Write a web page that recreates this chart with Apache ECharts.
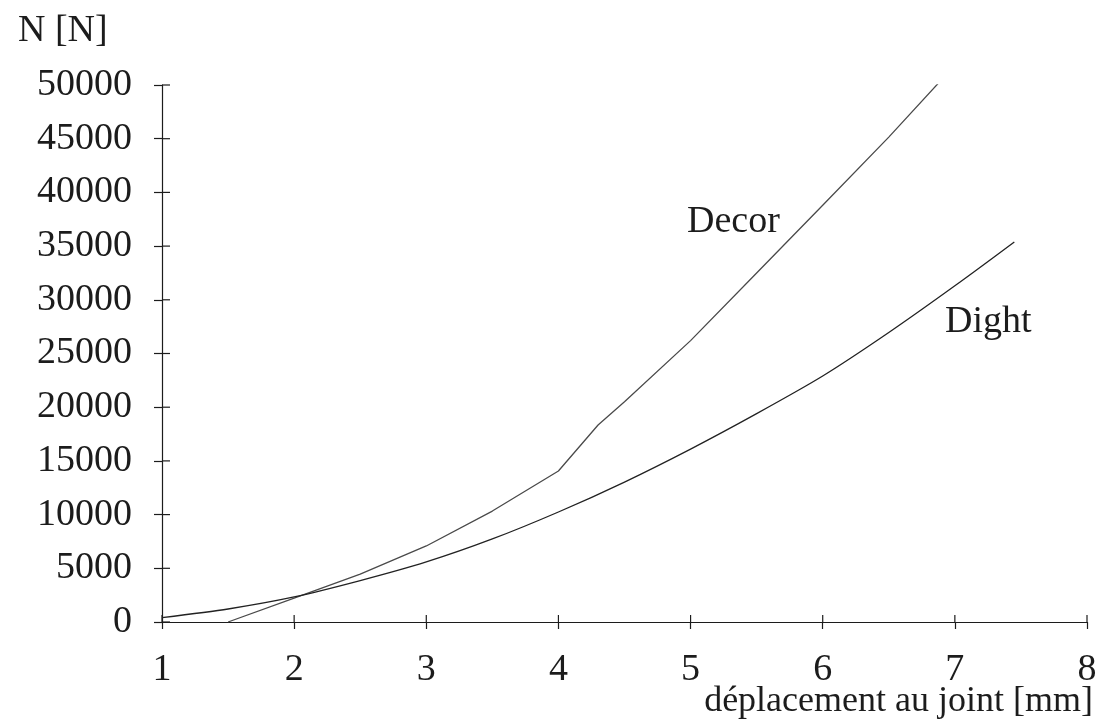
<!DOCTYPE html>
<html>
<head>
<meta charset="utf-8">
<script src="https://cdn.jsdelivr.net/npm/echarts@6/dist/echarts.min.js"></script>
<style>
html,body{margin:0;padding:0;background:#fff;}
#chart{width:1106px;height:728px;}
</style>
</head>
<body>
<div id="chart"></div>
<script>
// Tick labels / axis ranges
const xTicks = [1, 2, 3, 4, 5, 6, 7, 8];
const yTicks = [0, 5000, 10000, 15000, 20000, 25000, 30000, 35000, 40000, 45000, 50000];

// Decor curve (displacement mm, force N)
const decorX = [1.5, 2.0, 2.5, 3.0, 3.5, 4.0, 4.3, 4.5, 5.0, 5.5, 6.0, 6.5, 6.93];
const decorY = [0, 2230, 4450, 7080, 10330, 14060, 18340, 20500, 26200, 32500, 38800, 45150, 50900];

// Dight curve
const dightX = [1.0, 1.5, 2.0, 2.5, 3.0, 3.5, 4.0, 4.5, 5.0, 5.5, 6.0, 6.5, 7.0, 7.45];
const dightY = [400, 1210, 2330, 3850, 5590, 7730, 10240, 13030, 16100, 19400, 22900, 26950, 31300, 35380];

const seriesNames = ['Decor', 'Dight'];
const xTitle = 'déplacement au joint [mm]';
const yTitle = 'N [N]';

const pair = (xs, ys) => xs.map((x, i) => [x, ys[i]]);

const FONT = '"Liberation Serif", "DejaVu Serif", serif';
const INK = '#1c1c1c';

const chart = echarts.init(document.getElementById('chart'), null, {renderer: 'canvas'});

const xMin = xTicks[0], xMax = xTicks[xTicks.length - 1];
const yMin = yTicks[0], yMax = yTicks[yTicks.length - 1];
const yStep = yTicks[1] - yTicks[0];

const lbl = {color: INK, fontFamily: FONT, fontSize: 38, showMinLabel: true, showMaxLabel: true,
             formatter: v => String(v)};

// inner half of the crossing tick marks (outer half comes from axisTick)
function innerTicks(vertical, len) {
  return function (params, api) {
    const p = vertical ? api.coord([api.value(0), yMin]) : api.coord([xMin, api.value(0)]);
    const shape = vertical
      ? {x1: p[0], y1: p[1], x2: p[0], y2: p[1] - len}
      : {x1: p[0], y1: p[1], x2: p[0] + len, y2: p[1]};
    return {type: 'line', shape: shape, style: {stroke: INK, lineWidth: 1.2}, silent: true};
  };
}

chart.setOption({
  backgroundColor: '#ffffff',
  animation: false,
  grid: {left: 162, right: 19, top: 85, bottom: 106, containLabel: false},
  xAxis: {
    type: 'value', min: xMin, max: xMax, interval: 1,
    axisLine: {show: true, onZero: false, lineStyle: {color: INK, width: 1.2}},
    axisTick: {show: true, length: 7, lineStyle: {color: INK, width: 1.2}},
    axisLabel: Object.assign({margin: 29}, lbl),
    splitLine: {show: false}
  },
  yAxis: {
    type: 'value', min: yMin, max: yMax, interval: yStep,
    axisLine: {show: true, onZero: false, lineStyle: {color: INK, width: 1.2}},
    axisTick: {show: true, length: 8, lineStyle: {color: INK, width: 1.2}},
    axisLabel: Object.assign({margin: 30}, lbl),
    splitLine: {show: false}
  },
  series: [
    {
      name: seriesNames[0], type: 'line',
      data: pair(decorX, decorY), showSymbol: false, smooth: false,
      lineStyle: {color: '#4a4a4a', width: 1.3}
    },
    {
      name: seriesNames[1], type: 'line',
      data: pair(dightX, dightY), showSymbol: false, smooth: 0.25,
      lineStyle: {color: '#222222', width: 1.3}
    },
    {
      name: 'xInnerTicks', type: 'custom', silent: true, clip: false,
      data: xTicks.map(v => [v]), encode: {x: 0},
      renderItem: innerTicks(true, 7)
    },
    {
      name: 'yInnerTicks', type: 'custom', silent: true, clip: false,
      data: yTicks.map(v => [v]), encode: {y: 0},
      renderItem: innerTicks(false, 8)
    }
  ],
  graphic: [
    {type: 'text', left: 18, top: 12, style: {text: yTitle, fill: INK, font: '38px ' + FONT}},
    {type: 'text', left: 687, top: 203, style: {text: seriesNames[0], fill: INK, font: '38px ' + FONT}},
    {type: 'text', left: 945, top: 303, style: {text: seriesNames[1], fill: INK, font: '38px ' + FONT}},
    {type: 'text', right: 13, top: 684, style: {text: xTitle, fill: INK, font: '36px ' + FONT}}
  ]
});
</script>
</body>
</html>
